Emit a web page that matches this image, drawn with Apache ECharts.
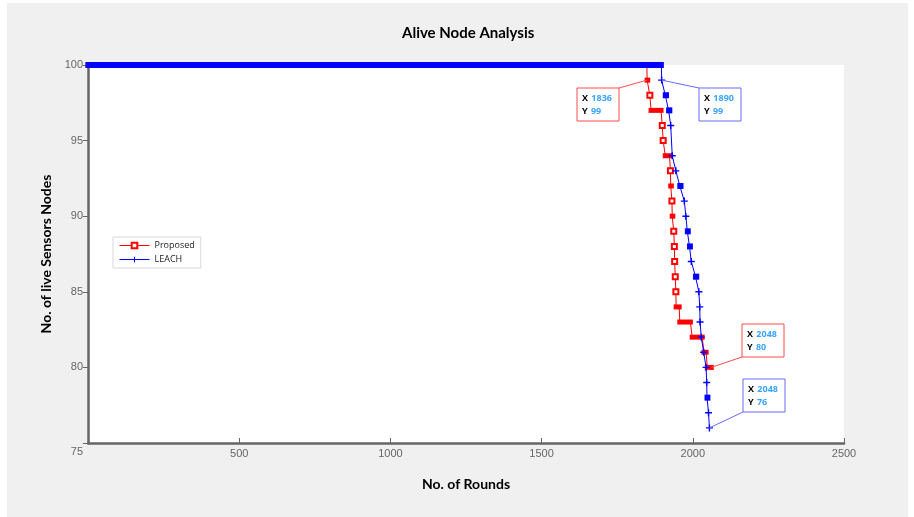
<!DOCTYPE html>
<html>
<head>
<meta charset="utf-8"/>
<script src="https://cdn.jsdelivr.net/npm/echarts@6/dist/echarts.min.js"></script>
<style>
    html, body { margin: 0; padding: 0; background: #fff; }
    #container { width: 914px; height: 517px; }
</style>
</head>
<body>
<div id="container"></div>
<script type="text/javascript">
    // alive nodes per level, with the first and last round spent at that level
    var proposedAlive = [100, 99, 98, 97, 96, 95, 94, 93, 92, 91, 90, 89, 88, 87, 86, 85, 84, 83, 82, 81, 80];
    var proposedFirst = [0, 1849, 1858, 1862, 1899, 1902, 1909, 1926, 1927, 1931, 1932, 1937, 1939, 1940, 1942, 1944, 1945, 1957, 1998, 2037, 2048];
    var proposedLast = [1848, 1851, 1858, 1895, 1899, 1902, 1923, 1926, 1929, 1931, 1934, 1937, 1939, 1940, 1942, 1944, 1955, 1992, 2031, 2044, 2061];

    var leachAlive = [100, 99, 98, 97, 96, 94, 93, 92, 91, 90, 89, 88, 87, 86, 85, 84, 83, 82, 81, 80, 79, 78, 77, 76];
    var leachFirst = [0, 1897, 1909, 1920, 1927, 1932, 1944, 1957, 1972, 1977, 1982, 1989, 1995, 2009, 2020, 2023, 2024, 2028, 2036, 2044, 2046, 2047, 2052, 2055];
    var leachLast = [1896, 1897, 1913, 1924, 1927, 1932, 1944, 1961, 1972, 1977, 1985, 1992, 1995, 2013, 2020, 2023, 2024, 2028, 2036, 2044, 2046, 2050, 2052, 2055];

    // data tips as printed on the figure
    var tipSeries = ['Proposed', 'LEACH', 'Proposed', 'LEACH'];
    var tipRounds = [1836, 1890, 2048, 2048];
    var tipAlive = [99, 99, 80, 76];

    var xTicks = [0, 500, 1000, 1500, 2000, 2500];

    // box layout for the data tips: left, top, corner the leader starts from
    var tipBoxes = [[577, 88, 'tr'], [699, 88, 'tl'], [742, 324, 'bl'], [743, 379, 'bl']];
    var boxW = 42, boxH = 33;

    // single-round levels keep their marker, runs are drawn as solid bars
    function points(first, last, alive) {
        var out = [];
        for (var i = 0; i < alive.length; i++) {
            if (last[i] > first[i]) {
                out.push({value: [first[i], alive[i]], symbol: 'none'});
                out.push({value: [last[i], alive[i]], symbol: 'none'});
            } else {
                out.push([first[i], alive[i]]);
            }
        }
        return out;
    }

    function dwell(first, last, alive) {
        var out = [];
        for (var i = 0; i < alive.length; i++) {
            if (last[i] > first[i]) out.push([first[i], last[i], alive[i]]);
        }
        return out;
    }

    function runRenderer(color, h, pad) {
        return function (params, api) {
            var a = api.coord([api.value(0), api.value(2)]);
            var b = api.coord([api.value(1), api.value(2)]);
            return {
                type: 'rect',
                z2: 50,
                shape: {x: a[0] - pad, y: a[1] - h / 2, width: b[0] - a[0] + 2 * pad, height: h},
                style: {fill: color}
            };
        };
    }

    // where a tip's leader lands: the marker of that level in the series
    function tipPoint(name, alive) {
        var a = name === 'Proposed' ? proposedAlive : leachAlive;
        var f = name === 'Proposed' ? proposedFirst : leachFirst;
        var l = name === 'Proposed' ? proposedLast : leachLast;
        var k = a.indexOf(alive);
        return [k === a.length - 1 ? l[k] : f[k], alive];
    }

    var plus = 'path://M4,0H6V4H10V6H6V10H4V6H0V4H4Z';
    var red = '#ff0000', blue = '#0000ff';

    var dom = document.getElementById("container");
    var myChart = echarts.init(dom);
    var option = {
        animation: false,
        textStyle: {fontFamily: 'Liberation Sans'},
        title: {
            text: 'Alive Node Analysis',
            left: 397,
            top: 21,
            textStyle: {fontFamily: 'Lato', fontWeight: 'bold', fontSize: 15, color: '#000'}
        },
        legend: {
            data: ['Proposed', 'LEACH'],
            orient: 'vertical',
            left: 113,
            top: 237,
            itemWidth: 30,
            itemHeight: 7,
            itemGap: 5,
            padding: [4, 6, 4, 6],
            backgroundColor: '#fff',
            borderColor: '#d8d8d8',
            borderWidth: 1,
            lineStyle: {width: 1},
            textStyle: {fontSize: 9, color: '#222', fontFamily: 'Open Sans'}
        },
        grid: {
            left: 88, right: 70, top: 65, bottom: 74,
            show: true, backgroundColor: '#fff', borderWidth: 0
        },
        xAxis: {
            type: 'value',
            min: xTicks[0], max: xTicks[xTicks.length - 1], interval: 500,
            name: 'No. of Rounds',
            nameLocation: 'middle',
            nameGap: 34,
            nameTextStyle: {fontFamily: 'Lato', fontWeight: 'bold', fontSize: 14, color: '#000'},
            axisLine: {lineStyle: {color: '#666', width: 2.5}},
            axisTick: {inside: true, length: 5, lineStyle: {color: '#666'}},
            axisLabel: {
                showMinLabel: false, color: '#666', fontSize: 11, margin: 5,
                formatter: function (v) { return String(v); }
            },
            splitLine: {show: false}
        },
        yAxis: {
            type: 'value',
            min: 75, max: 100, interval: 5,
            name: 'No. of live Sensors Nodes',
            nameLocation: 'middle',
            nameGap: 31,
            nameTextStyle: {fontFamily: 'Lato', fontWeight: 'bold', fontSize: 14, color: '#000'},
            axisLine: {lineStyle: {color: '#666', width: 2.5}},
            axisTick: {length: 5, lineStyle: {color: '#666'}},
            axisLabel: {
                color: '#666', fontSize: 11, margin: 5,
                formatter: function (v) { return v === 75 ? '{low|75}' : String(v); },
                rich: {low: {color: '#666', fontSize: 11, padding: [18, 0, 0, 0]}}
            },
            splitLine: {show: false}
        },
        series: [
            {
                name: 'Proposed',
                type: 'line',
                z: 2,
                data: points(proposedFirst, proposedLast, proposedAlive),
                symbol: 'emptyRect',
                symbolSize: 5,
                showAllSymbol: true,
                clip: false,
                itemStyle: {color: red, borderWidth: 1},
                lineStyle: {color: red, width: 1}
            },
            {
                name: 'Proposed runs',
                type: 'custom',
                z: 3,
                clip: false,
                silent: true,
                encode: {x: [0, 1], y: 2},
                data: dwell(proposedFirst, proposedLast, proposedAlive),
                renderItem: runRenderer(red, 5, 2.5)
            },
            {
                name: 'LEACH',
                type: 'line',
                z: 4,
                data: points(leachFirst, leachLast, leachAlive),
                symbol: plus,
                symbolSize: 7,
                showAllSymbol: true,
                clip: false,
                itemStyle: {color: blue},
                lineStyle: {color: blue, width: 1}
            },
            {
                name: 'LEACH runs',
                type: 'custom',
                z: 5,
                clip: false,
                silent: true,
                encode: {x: [0, 1], y: 2},
                data: dwell(leachFirst, leachLast, leachAlive),
                renderItem: runRenderer(blue, 6, 2.5)
            }
        ]
    };
    myChart.setOption(option, true);

    // page frame and data tips
    var graphics = [
        {type: 'rect', z: -10, silent: true, shape: {x: 0, y: 0, width: 914, height: 517}, style: {fill: '#fff'}},
        {type: 'rect', z: -9, silent: true, shape: {x: 7, y: 3, width: 901, height: 514}, style: {fill: '#f0f0f0'}}
    ];
    for (var i = 0; i < tipRounds.length; i++) {
        var p = myChart.convertToPixel({gridIndex: 0}, tipPoint(tipSeries[i], tipAlive[i]));
        var b = tipBoxes[i];
        var col = tipSeries[i] === 'Proposed' ? '#ff4d4d' : '#6a6aff';
        var cx = b[2].charAt(1) === 'r' ? b[0] + boxW : b[0];
        var cy = b[2].charAt(0) === 'b' ? b[1] + boxH : b[1];
        graphics.push({
            type: 'line', z: 20,
            shape: {x1: cx, y1: cy, x2: p[0], y2: p[1]},
            style: {stroke: col, lineWidth: 1}
        });
        graphics.push({
            type: 'rect', z: 21,
            shape: {x: b[0], y: b[1], width: boxW, height: boxH},
            style: {fill: '#fff', stroke: col, lineWidth: 1}
        });
        graphics.push({
            type: 'text', z: 22,
            x: b[0] + 5, y: b[1] + 4,
            style: {
                text: '{k|X} {v|' + tipRounds[i] + '}\n{k|Y} {v|' + tipAlive[i] + '}',
                rich: {
                    k: {fontFamily: 'Open Sans', fontWeight: 'bold', fontSize: 9, fill: '#000', lineHeight: 13},
                    v: {fontFamily: 'Open Sans', fontWeight: 'bold', fontSize: 9, fill: '#3aa3ff', lineHeight: 13}
                }
            }
        });
    }
    myChart.setOption({graphic: graphics});
</script>
</body>
</html>
